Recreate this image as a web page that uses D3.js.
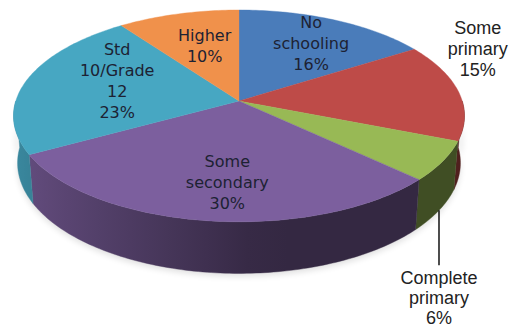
<!DOCTYPE html>
<html>
<head>
<meta charset="utf-8">
<script src="https://cdn.jsdelivr.net/npm/d3@7"></script>
<style>
  html, body { margin: 0; padding: 0; background: #fff; }
  svg { display: block; }
</style>
</head>
<body>
<svg id="chart" width="520" height="331"></svg>
<script>
// Education level shares (percent of respondents)
const categories = ["No schooling", "Some primary", "Complete primary", "Some secondary", "Std 10/Grade 12", "Higher"];
const categoryLines = [["No", "schooling"], ["Some", "primary"], ["Complete", "primary"], ["Some", "secondary"], ["Std", "10/Grade", "12"], ["Higher"]];
const shares = [16, 15, 6, 30, 23, 10];
const colors = ["#4a7cba", "#be4b48", "#98b955", "#7c5f9e", "#47a7c2", "#f0914b"];

// Label placement: radius fraction at slice mid-angle plus a pixel nudge
const labelPlacement = [
  { r: 0.72, dx: 1, dy: 2, outside: false },
  { r: 1.09, dx: 0, dy: -42, outside: true },
  { leader: true, outside: true },
  { r: 0.70, dx: 10, dy: 1, outside: false },
  { r: 0.55, dx: -4, dy: -8, outside: false },
  { r: 0.60, dx: 4, dy: 0, outside: false }
];

const svg = d3.select("#chart");
const defs = svg.append("defs");

// Perspective view of a flat cylinder (radius 1, height H)
const cx = 239, cy = 101;
const D = 6.29, F = 1404, tilt = Math.asin(0.465), H = 0.24;
function project(theta, r, y) {
  const X = r * Math.sin(theta), Z = r * Math.cos(theta);
  const v = Z * Math.sin(tilt) + y * Math.cos(tilt);
  const w = D + Z * Math.cos(tilt) - y * Math.sin(tilt);
  return [cx + F * X / w, cy - F * v / w];
}

const pie = d3.pie().sort(null).value(d => d.value).startAngle(0).endAngle(2 * Math.PI);
const data = categories.map((c, i) => ({ name: c, value: shares[i], lines: categoryLines[i], i }));
const arcs = pie(data);
const color = d3.scaleOrdinal().domain(categories).range(colors);

function arcPoints(a0, a1, r, y) {
  const n = Math.max(2, Math.ceil((a1 - a0) / (Math.PI / 180)));
  return d3.range(n + 1).map(k => project(a0 + (a1 - a0) * k / n, r, y));
}

// Side wall shading: brighter toward the front-left
const lightAngle = 265 * Math.PI / 180;
function shade(theta) {
  return 0.42 + 0.40 * Math.max(0, Math.cos(theta - lightAngle));
}
function darken(c, f) {
  const rgb = d3.rgb(c);
  return d3.rgb(rgb.r * f, rgb.g * f, rgb.b * f).formatHex();
}

// Soft shadow beneath the pie
const blur = defs.append("filter").attr("id", "soft").attr("x", "-20%").attr("y", "-20%").attr("width", "140%").attr("height", "140%");
blur.append("feGaussianBlur").attr("stdDeviation", 3);
const shadowPts = arcPoints(Math.PI / 2, 3 * Math.PI / 2, 1.0, -H).map(p => [p[0], p[1] + 3]);
svg.append("path")
  .attr("d", d3.line()(shadowPts.concat(arcPoints(Math.PI / 2, 3 * Math.PI / 2, 1.0, -H * 0.5).reverse())) + "Z")
  .attr("fill", "#000").attr("opacity", 0.12).attr("filter", "url(#soft)");

// Front side walls (visible half only)
const front0 = Math.PI / 2, front1 = 3 * Math.PI / 2;
const walls = svg.append("g");
arcs.forEach((a, i) => {
  const s = Math.max(a.startAngle, front0), e = Math.min(a.endAngle, front1);
  if (e <= s) return;
  const top = arcPoints(s, e, 1, 0);
  const bot = arcPoints(s, e, 1, -H);
  const gid = "wall" + i;
  const x1 = top[0][0], x2 = top[top.length - 1][0];
  const g = defs.append("linearGradient").attr("id", gid)
    .attr("gradientUnits", "userSpaceOnUse")
    .attr("x1", x1).attr("x2", x2).attr("y1", 0).attr("y2", 0);
  const steps = 12;
  d3.range(steps + 1).forEach(k => {
    const t = s + (e - s) * k / steps;
    const px = project(t, 1, 0)[0];
    const off = Math.abs(x2 - x1) < 1e-6 ? 0 : (px - x1) / (x2 - x1);
    g.append("stop").attr("offset", Math.min(1, Math.max(0, off)))
      .attr("stop-color", darken(color(a.data.name), shade(t)));
  });
  walls.append("path")
    .attr("d", d3.line()(top.concat(bot.reverse())) + "Z")
    .attr("fill", `url(#${gid})`)
    .attr("stroke", `url(#${gid})`).attr("stroke-width", 0.4);
});

// Top faces
const tops = svg.append("g");
arcs.forEach(a => {
  const pts = [project(0, 0, 0)].concat(arcPoints(a.startAngle, a.endAngle, 1, 0));
  tops.append("path")
    .attr("d", d3.line()(pts) + "Z")
    .attr("fill", color(a.data.name))
    .attr("stroke", color(a.data.name)).attr("stroke-width", 0.4);
});

// Labels
const lineH = 21;
const labels = svg.append("g");
arcs.forEach((a, i) => {
  const lp = labelPlacement[i];
  const mid = (a.startAngle + a.endAngle) / 2;
  const lines = a.data.lines.concat([a.data.value + "%"]);
  let ax, firstCenter;
  if (lp.leader) {
    const p0 = project(mid, 1, -H);
    const yEnd = p0[1] + 55;
    labels.append("line")
      .attr("x1", p0[0]).attr("y1", p0[1]).attr("x2", p0[0]).attr("y2", yEnd)
      .attr("stroke", "#000").attr("stroke-width", 1.4);
    ax = p0[0];
    firstCenter = yEnd + 12;
  } else {
    const p = project(mid, lp.r, 0);
    ax = p[0] + lp.dx;
    const ay = p[1] + lp.dy;
    firstCenter = ay - (lines.length - 1) * lineH / 2;
  }
  const lh = lp.leader ? 20 : lineH;
  const t = labels.append("text")
    .attr("text-anchor", "middle")
    .attr("font-family", lp.outside ? "'Liberation Sans', Arial, sans-serif" : "'DejaVu Sans', sans-serif")
    .attr("font-size", lp.outside ? 18 : 16)
    .attr("fill", lp.outside ? "#222" : "#1d2233");
  lines.forEach((ln, k) => {
    t.append("tspan").attr("x", ax).attr("y", firstCenter + k * lh).attr("dy", "0.36em").text(ln);
  });
});
</script>
</body>
</html>
